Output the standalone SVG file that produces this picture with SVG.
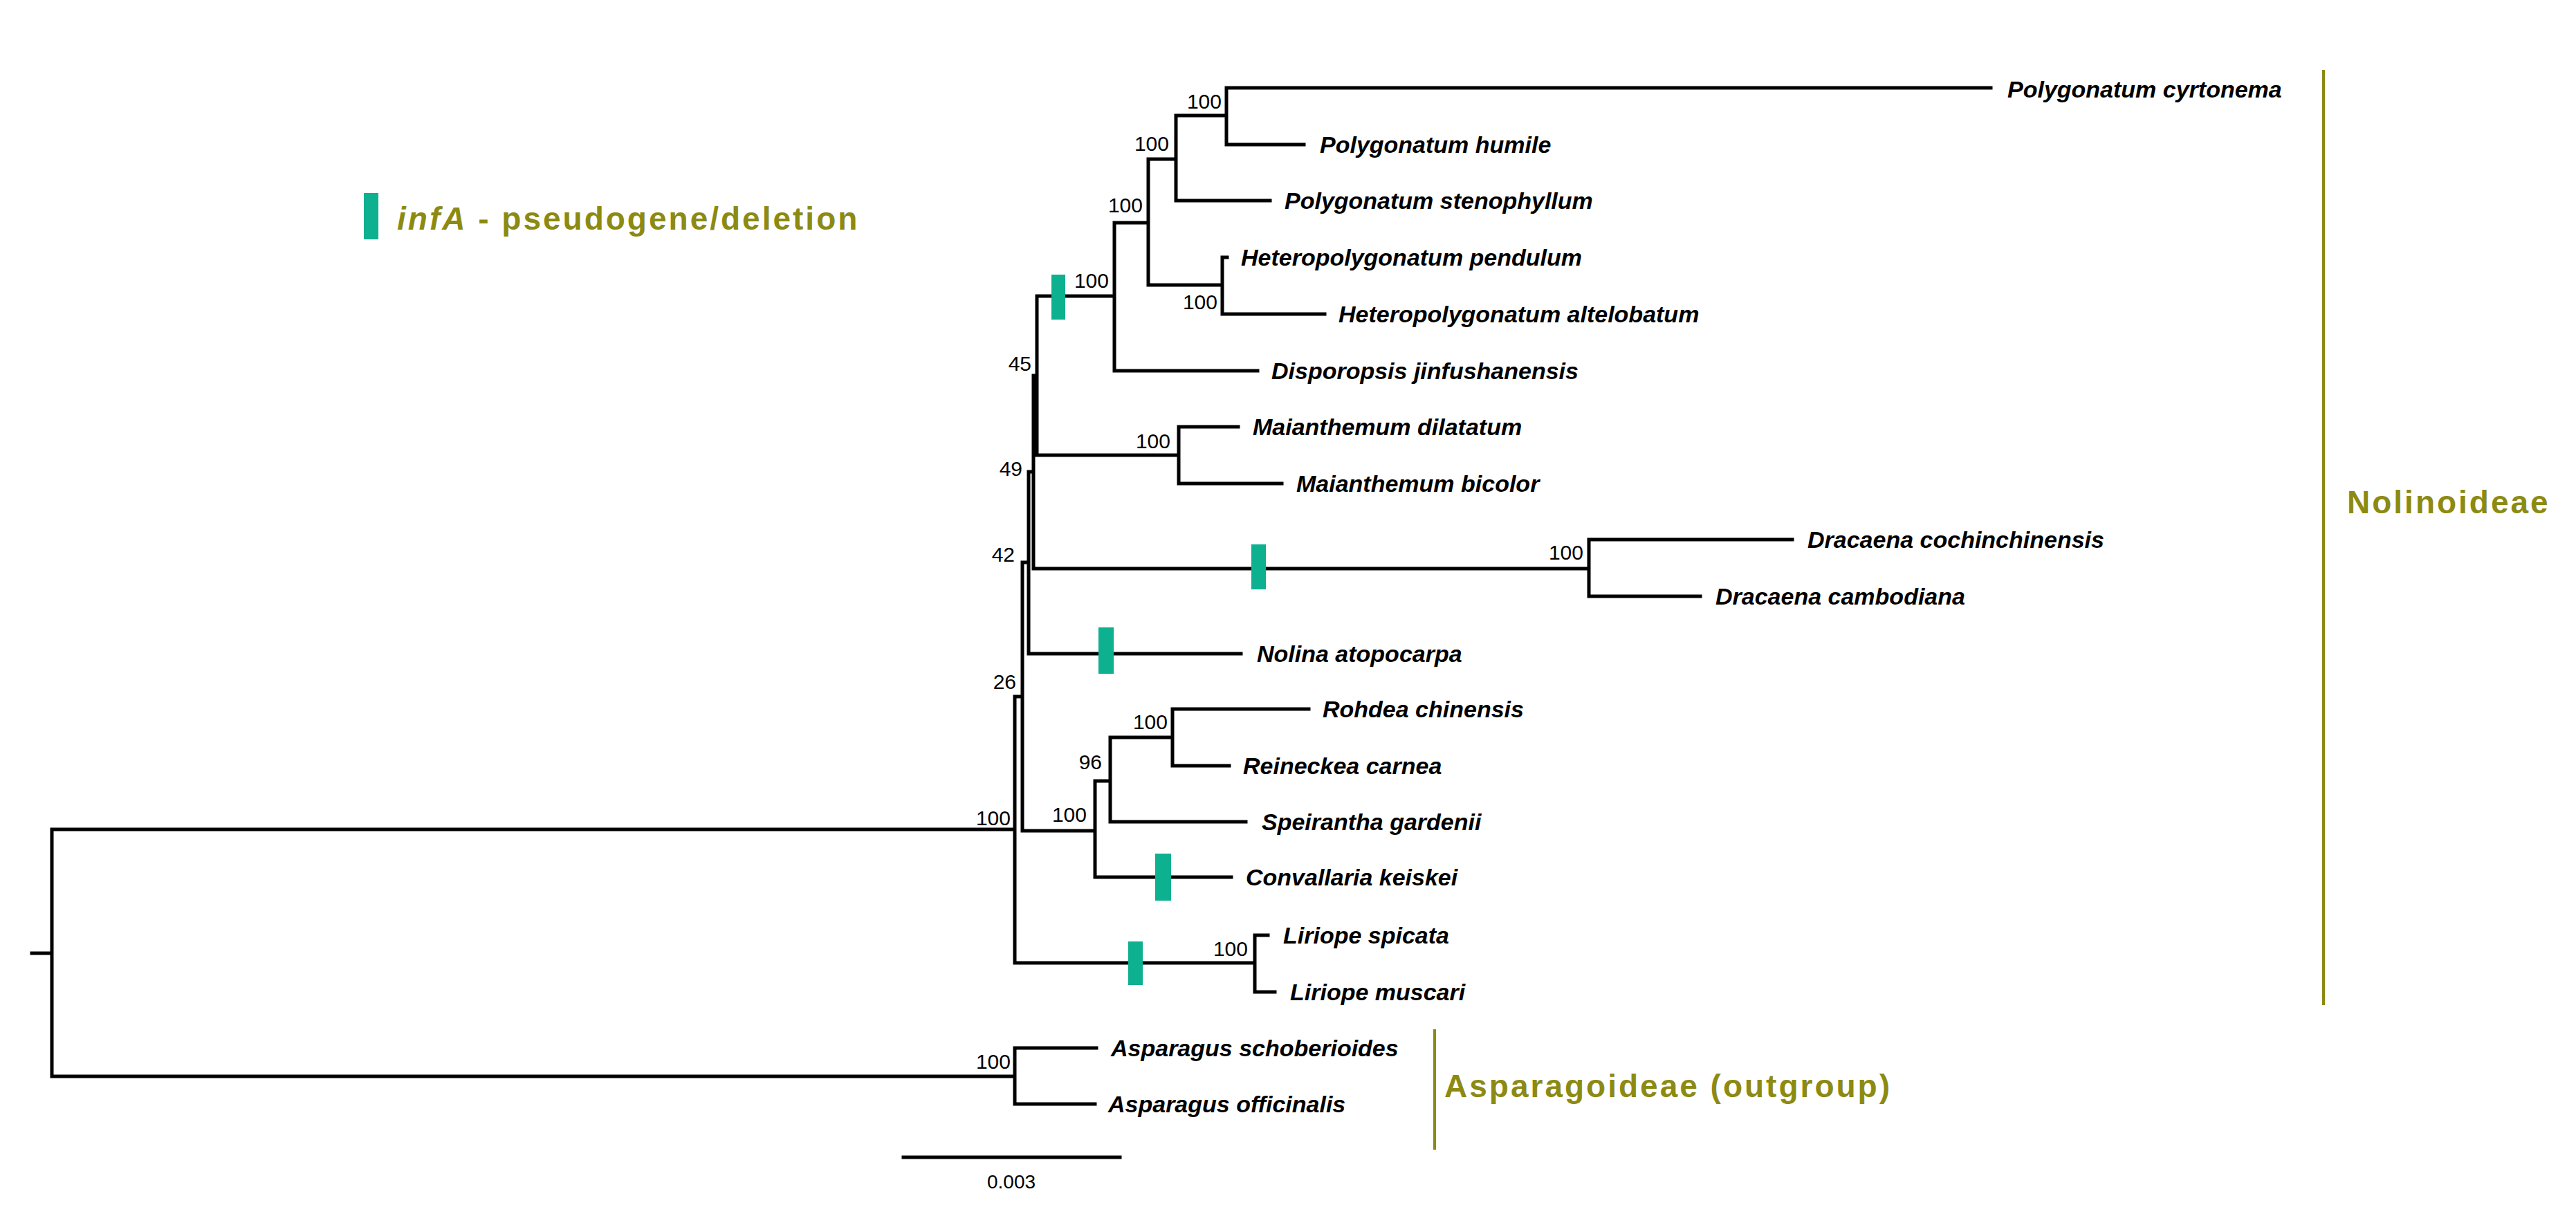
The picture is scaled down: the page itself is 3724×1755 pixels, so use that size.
<svg xmlns="http://www.w3.org/2000/svg" width="3724" height="1755" viewBox="0 0 3724 1755">
<style>
.br{fill:none;stroke:#000;stroke-width:5;stroke-linecap:square}
.sp{font-family:"Liberation Sans",Arial,sans-serif;font-size:34px;font-style:italic;font-weight:bold;fill:#000}
.bs{font-family:"Liberation Sans",Arial,sans-serif;font-size:30px;fill:#000;text-anchor:end}
.mk{fill:#0DB08F}
.cl{font-family:"Liberation Sans",Arial,sans-serif;font-size:46px;font-weight:bold;fill:#8C8A12;letter-spacing:3px}
.bk{stroke:#8C8A12;stroke-width:4;fill:none}
</style>
<rect width="3724" height="1755" fill="#fff"/>
<g id="connectors">
<path class="br" d="M46 1378H75M75 1199V1556M75 1199H1467M75 1556H1467
M1467 1007V1392M1467 1007H1478M1467 1392H1814
M1814 1352V1434M1814 1352H1833M1814 1434H1843
M1478 813V1201M1478 813H1487M1478 1201H1583
M1583 1129V1268M1583 1129H1605M1583 1268H1780
M1605 1066V1188M1605 1066H1695M1605 1188H1801
M1695 1025V1107M1695 1025H1892M1695 1107H1777
M1487 682V945M1487 682H1494M1487 945H1794
M1494 543V822M1494 543H1499M1494 822H2297
M2297 780V862M2297 780H2591M2297 862H2458
M1499 428V658M1499 428H1611M1499 658H1704
M1704 617V699M1704 617H1790M1704 699H1853
M1611 322V536M1611 322H1660M1611 536H1818
M1660 230V412M1660 230H1700M1660 412H1767
M1767 372V454M1767 372H1774M1767 454H1915
M1700 167V290M1700 167H1773M1700 290H1836
M1773 127V209M1773 127H2878M1773 209H1885
M1467 1515V1596M1467 1515H1585M1467 1596H1583"/>
</g>
<g id="markers">
<rect class="mk" x="1520" y="397" width="20" height="65"/>
<rect class="mk" x="1809" y="787" width="21" height="65"/>
<rect class="mk" x="1588" y="907" width="22" height="67"/>
<rect class="mk" x="1670" y="1234" width="23" height="68"/>
<rect class="mk" x="1631" y="1361" width="21" height="63"/>
</g>
<g id="support">
<text class="bs" x="1766" y="157">100</text>
<text class="bs" x="1690" y="218">100</text>
<text class="bs" x="1652" y="307">100</text>
<text class="bs" x="1603" y="416">100</text>
<text class="bs" x="1760" y="447">100</text>
<text class="bs" x="1692" y="648">100</text>
<text class="bs" x="1491" y="536">45</text>
<text class="bs" x="1478" y="688">49</text>
<text class="bs" x="1467" y="812">42</text>
<text class="bs" x="2289" y="809">100</text>
<text class="bs" x="1469" y="996">26</text>
<text class="bs" x="1461" y="1193">100</text>
<text class="bs" x="1571" y="1188">100</text>
<text class="bs" x="1593" y="1112">96</text>
<text class="bs" x="1688" y="1054">100</text>
<text class="bs" x="1804" y="1382">100</text>
<text class="bs" x="1461" y="1545">100</text>
</g>
<g id="taxa">
<text class="sp" x="2902" y="141">Polygonatum cyrtonema</text>
<text class="sp" x="1908" y="221">Polygonatum humile</text>
<text class="sp" x="1857" y="302">Polygonatum stenophyllum</text>
<text class="sp" x="1794" y="384">Heteropolygonatum pendulum</text>
<text class="sp" x="1935" y="466">Heteropolygonatum altelobatum</text>
<text class="sp" x="1838" y="548">Disporopsis jinfushanensis</text>
<text class="sp" x="1811" y="629">Maianthemum dilatatum</text>
<text class="sp" x="1874" y="711">Maianthemum bicolor</text>
<text class="sp" x="2613" y="792">Dracaena cochinchinensis</text>
<text class="sp" x="2480" y="874">Dracaena cambodiana</text>
<text class="sp" x="1817" y="957">Nolina atopocarpa</text>
<text class="sp" x="1912" y="1037">Rohdea chinensis</text>
<text class="sp" x="1797" y="1119">Reineckea carnea</text>
<text class="sp" x="1824" y="1200">Speirantha gardenii</text>
<text class="sp" x="1801" y="1280">Convallaria keiskei</text>
<text class="sp" x="1855" y="1364">Liriope spicata</text>
<text class="sp" x="1865" y="1446">Liriope muscari</text>
<text class="sp" x="1606" y="1527">Asparagus schoberioides</text>
<text class="sp" x="1602" y="1608">Asparagus officinalis</text>
</g>
<g id="clade-nolinoideae">
<path class="bk" d="M3359 101V1453"/>
<text class="cl" x="3393" y="742">Nolinoideae</text>
</g>
<g id="clade-asparagoideae">
<path class="bk" d="M2074 1488V1662"/>
<text class="cl" x="2088" y="1586">Asparagoideae (outgroup)</text>
</g>
<g id="legend">
<rect class="mk" x="526" y="279" width="21" height="67"/>
<text class="cl" x="574" y="332"><tspan font-style="italic">infA</tspan> - pseudogene/deletion</text>
</g>
<g id="scale">
<path class="br" d="M1306 1673H1619"/>
<text x="1462" y="1718" text-anchor="middle" font-family="Liberation Sans, Arial, sans-serif" font-size="28">0.003</text>
</g>
</svg>
